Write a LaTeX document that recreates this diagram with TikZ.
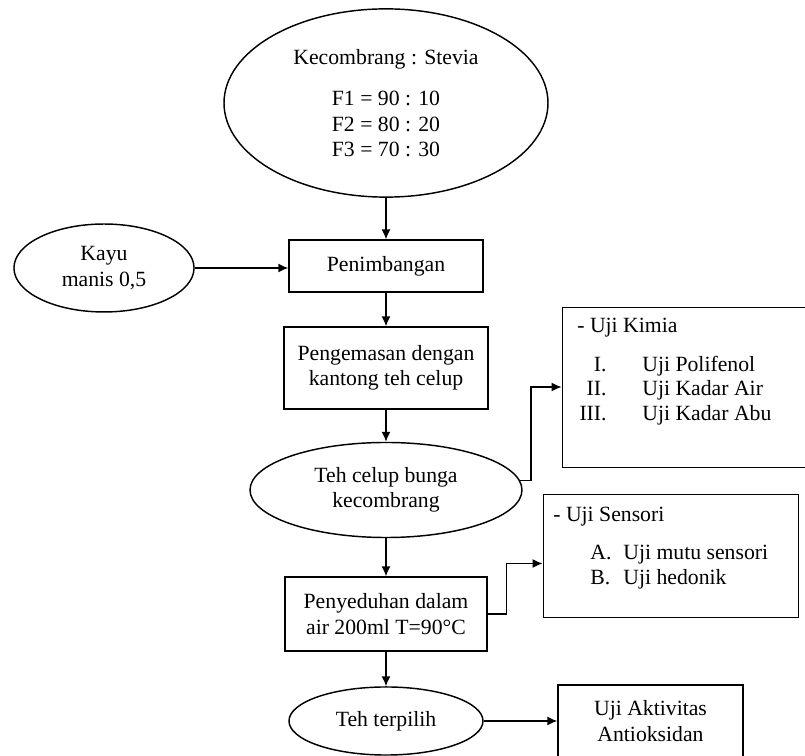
\documentclass[tikz,border=0pt]{standalone}
\usepackage{fontspec}
\setmainfont{Liberation Serif}
\usepackage{tikz}
\usetikzlibrary{shapes.geometric,arrows.meta,calc}
\tikzstyle{bulat}=[draw, thick, ellipse, inner sep=0pt, align=center]
\tikzstyle{kotak}=[draw, thick, rectangle, inner sep=0pt, align=center]
\tikzstyle{uji}=[draw, line width=.5pt, rectangle, inner sep=0pt]
\tikzstyle{teks}=[inner sep=0pt, text height=8pt, text depth=2.5pt]
\tikzstyle{panah}=[thick, -{Latex[length=5.5pt,width=5pt]}]

\begin{document}
\begin{tikzpicture}[x=.5525pt, y=-.5525pt, font=\fontsize{12}{14}\selectfont]
 \useasboundingbox (0,0) rectangle (805,756);
%
 \node[bulat, minimum width=179pt, minimum height=104pt] (bahan) at (386,103) {Kecombrang : Stevia\\[9pt] F1 = 90 : 10\\ F2 = 80 : 20\\ F3 = 70 : 30};
 \node[bulat, minimum width=99.5pt, minimum height=48.6pt] (kayu) at (104,268) {Kayu\\ manis 0,5};
 \node[kotak, minimum width=107.2pt, minimum height=28.7pt] (timbang) at (386,266) {Penimbangan};
 \node[kotak, minimum width=112.7pt, minimum height=45.3pt] (kemas) at (386,368) {Pengemasan dengan\\ kantong teh celup};
 \node[bulat, minimum width=150.3pt, minimum height=52.5pt] (tehcelup) at (386,490) {Teh celup bunga\\ kecombrang};
 \node[kotak, minimum width=111.6pt, minimum height=40.8pt] (seduh) at (386,614) {Penyeduhan dalam\\ air 200ml T=90°C};
 \node[bulat, minimum width=107.2pt, minimum height=37.6pt] (terpilih) at (386,721) {Teh terpilih};
 \node[kotak, minimum width=102.2pt, minimum height=39.8pt] (aktivitas) at (650.5,721) {Uji Aktivitas\\ Antioksidan};
%
 \node[uji, minimum width=137pt, minimum height=88.4pt] (kimia) at (686,387) {};
 \node[teks, anchor=west] (kimiajudul) at (577,328) {- Uji Kimia};
 \foreach \no/\nama/\y in {I./Uji Polifenol/367, II./Uji Kadar Air/391, III./Uji Kadar Abu/416}{
  \node[teks, anchor=east] (kno\y) at (607,\y) {\no};
  \node[teks, anchor=west] (knama\y) at (642,\y) {\nama};
 }
%
 \node[uji, minimum width=140.9pt, minimum height=68pt] (sensori) at (670.5,555.5) {};
 \node[teks, anchor=west] (sensorijudul) at (553,517) {- Uji Sensori};
 \foreach \no/\nama/\y in {A./Uji mutu sensori/555, B./Uji hedonik/580}{
  \node[teks, anchor=west] (sno\y) at (590,\y) {\no};
  \node[teks, anchor=west] (snama\y) at (623,\y) {\nama};
 }
%
 \draw[panah] (bahan) -- (timbang);
 \draw[panah] (kayu.east) -- (kayu.east -| timbang.west);
 \draw[panah] (timbang) -- (kemas);
 \draw[panah] (kemas) -- (tehcelup);
 \draw[panah] (tehcelup) -- (seduh);
 \draw[panah] (seduh) -- (terpilih);
 \draw[panah] (terpilih) -- (aktivitas);
 \draw[panah] (tehcelup.4) -- ++(11,0) |- (kimia.west);
 \draw[panah] (seduh.east) -- ++(19,0) |- ($(sensori.west)+(0,8)$);
\end{tikzpicture}
\end{document}
